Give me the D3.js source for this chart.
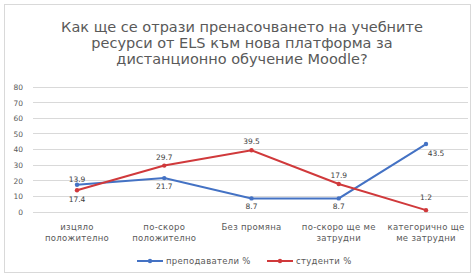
<!DOCTYPE html>
<html><head><meta charset="utf-8">
<script src="https://cdn.jsdelivr.net/npm/d3@7"></script>
<style>html,body{margin:0;padding:0;background:#fff;}svg{display:block;font-family:"DejaVu Sans",Arial,sans-serif;}</style>
</head><body><svg id="c" width="474" height="275"></svg>
<script>
const titleLines = ["Как ще се отрази пренасочването на учебните", "ресурси от ELS към нова платформа за", "дистанционно обучение Moodle?"];
const categories = [["изцяло","положително"],["по-скоро","положително"],["Без промяна"],["по-скоро ще ме","затрудни"],["категорично ще","ме затрудни"]];
const teachers = [17.4, 21.7, 8.7, 8.7, 43.5];
const students = [13.9, 29.7, 39.5, 17.9, 1.2];
const yTicks = [0,10,20,30,40,50,60,70,80];
const seriesNames = ["преподаватели %", "студенти %"];

const svg = d3.select("#c");
svg.append("rect").attr("x",4.5).attr("y",4.5).attr("width",466).attr("height",268).attr("fill","#fff").attr("stroke","#d9d9d9");

const t = svg.append("text").attr("text-anchor","middle").attr("fill","#595959").style("font-size","14.5px");
titleLines.forEach((l,i)=>t.append("tspan").attr("x",242).attr("y",32+i*16).text(l));

const x = d3.scalePoint().domain(d3.range(categories.length)).range([77,426]);
const y = d3.scaleLinear().domain([0,80]).range([212,87]);

const grid = svg.append("g");
grid.selectAll("line").data(yTicks).join("line")
  .attr("x1",33).attr("x2",468).attr("y1",d=>y(d)).attr("y2",d=>y(d))
  .attr("stroke","#d9d9d9").attr("stroke-width",1).attr("shape-rendering","crispEdges");

const yAxis = svg.append("g").attr("transform","translate(26,0)")
  .call(d3.axisLeft(y).tickValues(yTicks).tickSize(0).tickPadding(3));
yAxis.select(".domain").remove();
yAxis.selectAll("text").attr("fill","#595959").style("font-size","7.5px").style("font-family","DejaVu Sans, Arial, sans-serif");

const cat = svg.append("g");
categories.forEach((c,i)=>{
  const tx = cat.append("text").attr("text-anchor","middle").attr("fill","#595959").style("font-size","8.5px").style("letter-spacing","0.3px");
  c.forEach((l,j)=>tx.append("tspan").attr("x",x(i)).attr("y",230+j*11).text(l));
});

const line = d3.line().x((d,i)=>x(i)).y(d=>y(d));
const colors = ["#4472C4","#D0393B"];
[teachers, students].forEach((s,k)=>{
  svg.append("path").datum(s).attr("d",line).attr("fill","none").attr("stroke",colors[k]).attr("stroke-width",2);
  svg.append("g").selectAll("circle").data(s).join("circle")
    .attr("cx",(d,i)=>x(i)).attr("cy",d=>y(d)).attr("r",2.2).attr("fill",colors[k]);
});

const lab = svg.append("g").style("font-size","7.5px").attr("fill","#404040").attr("text-anchor","middle");
teachers.forEach((v,i)=>{
  const dx = i===4 ? 10 : 0;
  const dy = i===4 ? 12 : (i===0 ? 17 : 11);
  lab.append("text").attr("x",x(i)+dx).attr("y",y(v)+dy).text(v.toFixed(1));
});
students.forEach((v,i)=>{
  lab.append("text").attr("x",x(i)).attr("y",y(v)-(i===4?10:(i===0?8:6))).text(v.toFixed(1));
});

const leg = svg.append("g");
const legX = [137, 267];
seriesNames.forEach((n,k)=>{
  leg.append("line").attr("x1",legX[k]).attr("x2",legX[k]+26).attr("y1",261).attr("y2",261).attr("stroke",colors[k]).attr("stroke-width",2);
  leg.append("circle").attr("cx",legX[k]+13).attr("cy",261).attr("r",2.2).attr("fill",colors[k]);
  leg.append("text").attr("x",legX[k]+29).attr("y",264).attr("fill","#595959").style("font-size","8.5px").style("letter-spacing","0.3px").text(n);
});
</script></body></html>
